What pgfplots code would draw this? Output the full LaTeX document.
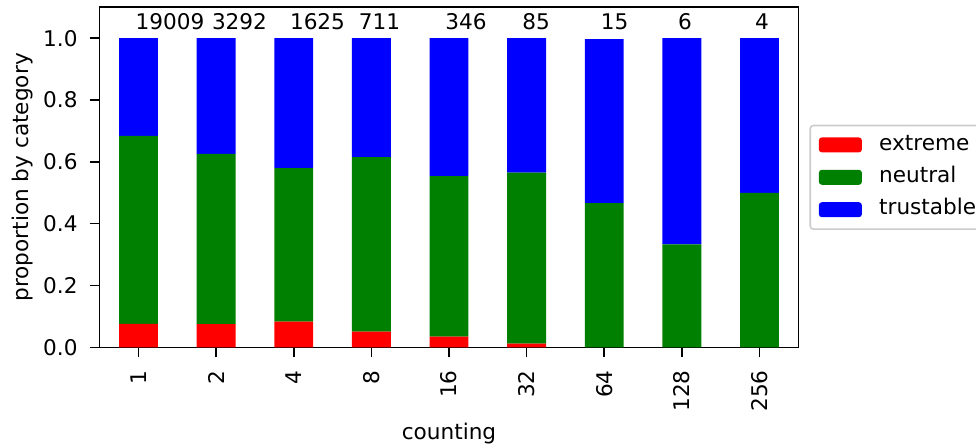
\documentclass[border=0pt]{standalone}
\usepackage{fontspec}
\setmainfont{DejaVu Sans}
\usepackage{pgfplots}
\pgfplotsset{compat=1.18}
\usepackage{pgfplotstable}
\definecolor{mplgreen}{RGB}{0,128,0}
\definecolor{legedge}{RGB}{204,204,204}
\newcommand\f{\fontsize{21.6bp}{25bp}\selectfont}
\pgfplotstableread{
x extreme neutral trustable
0 0.0754 0.6086 0.3160
1 0.0750 0.5510 0.3740
2 0.0831 0.4969 0.4200
3 0.0506 0.5644 0.3850
4 0.0347 0.5193 0.4460
5 0.0118 0.5530 0.4352
6 0.0000 0.4667 0.5300
7 0.0000 0.3333 0.6667
8 0.0000 0.5000 0.5000
}\data
\begin{document}
\begin{tikzpicture}[font=\f]
\begin{axis}[
  name=ax,
  scale only axis,
  width=698.6bp, height=340bp,
  xmin=-0.5, xmax=8.5, ymin=0, ymax=1.1,
  ybar stacked, bar width=0.5,
  xtick={0,...,8},
  xticklabels={1,2,4,8,16,32,64,128,256},
  ytick={0,0.2,0.4,0.6,0.8,1.0},
  /pgf/number format/assume math mode=true,
  yticklabel style={/pgf/number format/fixed,/pgf/number format/fixed zerofill,/pgf/number format/precision=1, anchor=east, inner sep=0pt, xshift=-12bp},
  xticklabel style={rotate=90, anchor=east, inner sep=0pt, xshift=-13bp},
  tick align=outside,
  xtick pos=bottom, ytick pos=left,
  major tick length=10bp,
  tick style={line width=1.6bp, black},
  axis line style={line width=1.6bp},
  xlabel={counting},
  ylabel={proportion by category},
  xlabel style={at={(axis description cs:0.5,-0.2726)}, anchor=base, inner sep=0pt},
  ylabel style={at={(axis description cs:-0.1109,0.5)}, anchor=center, inner sep=0pt},
  legend style={at={(1.016,0.5)}, anchor=west, draw=legedge, line width=1.6bp, rounded corners=3bp, fill=white,
    inner sep=8.6bp, row sep=10.8bp, column sep=0bp,
    nodes={inner sep=0pt, text height=16bp, text depth=5.6bp, anchor=west},
    font=\f},
  legend cell align=left,
]
\addplot+[fill=red, draw=none, legend image code/.code={\fill[red] (0bp,-7.5bp) rectangle (43bp,7.5bp); \path (60.3bp,0);}] table[x=x,y=extreme]{\data};
\addplot+[fill=mplgreen, draw=none, legend image code/.code={\fill[mplgreen] (0bp,-7.5bp) rectangle (43bp,7.5bp); \path (60.3bp,0);}] table[x=x,y=neutral]{\data};
\addplot+[fill=blue, draw=none, legend image code/.code={\fill[blue] (0bp,-7.5bp) rectangle (43bp,7.5bp); \path (60.3bp,0);}] table[x=x,y=trustable]{\data};
\legend{extreme,neutral,trustable}
\node[anchor=base, inner sep=0pt] at (axis cs:0.406,1.027) {19009};
\node[anchor=base, inner sep=0pt] at (axis cs:1.301,1.027) {3292};
\node[anchor=base, inner sep=0pt] at (axis cs:2.306,1.027) {1625};
\node[anchor=base, inner sep=0pt] at (axis cs:3.105,1.027) {711};
\node[anchor=base, inner sep=0pt] at (axis cs:4.219,1.027) {346};
\node[anchor=base, inner sep=0pt] at (axis cs:5.121,1.027) {85};
\node[anchor=base, inner sep=0pt] at (axis cs:6.135,1.027) {15};
\node[anchor=base, inner sep=0pt] at (axis cs:7.040,1.027) {6};
\node[anchor=base, inner sep=0pt] at (axis cs:8.032,1.027) {4};
\end{axis}
\pgfresetboundingbox
\path[use as bounding box] ([shift={(-99.7bp,-100.7bp)}]ax.south west) rectangle ++(976bp,448bp);
\end{tikzpicture}
\end{document}
